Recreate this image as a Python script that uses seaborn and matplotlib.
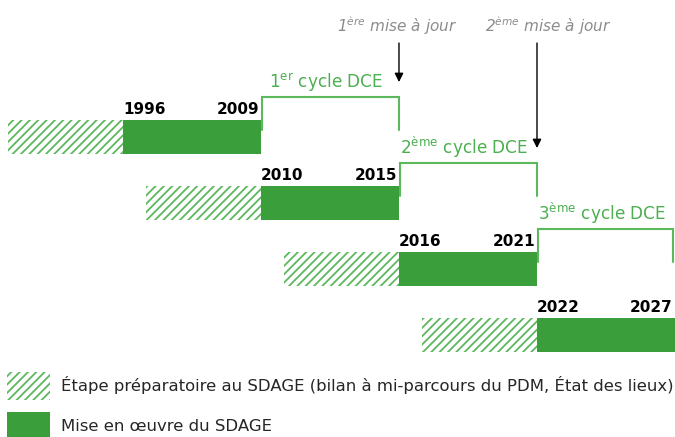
import matplotlib
matplotlib.use("Agg")
import matplotlib.pyplot as plt
from matplotlib.patches import Patch
import seaborn as sns

# SDAGE cycles (schematic: every implementation phase gets the same slot width)
start_years = [1996, 2010, 2016, 2022]
end_years = [2009, 2015, 2021, 2027]
cycle_names = ["1$^{\\mathregular{er}}$ cycle DCE",
               "2$^{\\mathregular{ème}}$ cycle DCE",
               "3$^{\\mathregular{ème}}$ cycle DCE"]
update_names = ["1$^{\\mathregular{ère}}$ mise à jour",
                "2$^{\\mathregular{ème}}$ mise à jour"]
legend_labels = ["Étape préparatoire au SDAGE (bilan à mi-parcours du PDM, État des lieux)",
                 "Mise en œuvre du SDAGE"]

sns.set_theme(style="white")
plt.rcParams["font.family"] = ["DejaVu Sans"]
plt.rcParams["hatch.linewidth"] = 1.3

solid = "#3a9f3a"
light = "#5cb85c"
txt_green = "#4caf50"
grey = "#8c8c8c"

prep_w = 0.833
bar_h = 0.515

fig = plt.figure(figsize=(6.75, 4.37), dpi=100)
ax = fig.add_axes([0, 0, 1, 1])
ax.set_xlim(-0.891, 4.0)
ax.set_ylim(4.545, -2.076)
ax.axis("off")

rows = list(range(len(start_years)))
# preparatory phase (hatched) then implementation (solid)
ax.barh(rows, [prep_w] * len(rows), left=[r - prep_w for r in rows], height=bar_h,
        color="white", edgecolor=light, hatch="////", linewidth=0)
ax.barh(rows, [1] * len(rows), left=rows, height=bar_h, color=solid, linewidth=0)

for r, (y0, y1) in enumerate(zip(start_years, end_years)):
    top = r - bar_h / 2
    ax.text(r + 0.0, top - 0.09, str(y0), fontsize=11, fontweight="bold",
            color="black", ha="left", va="baseline")
    ax.text(r + 0.985, top - 0.09, str(y1), fontsize=11, fontweight="bold",
            color="black", ha="right", va="baseline")

# cycle brackets
for k, name in enumerate(cycle_names):
    top = k - bar_h / 2
    y_hi = top - 0.348
    y_lo = top + 0.152
    xl = k + 1 + 0.005
    xr = min(k + 2, 3.985)
    ax.plot([xl, xl, xr, xr], [y_lo, y_hi, y_hi, y_lo], color=light, lw=1.5,
            solid_joinstyle="miter", clip_on=False)
    ax.text(k + 1.47, y_hi - 0.13, name, fontsize=12.2, color=txt_green,
            ha="center", va="baseline")

# "mise à jour" arrows
label_dx = [-0.01, 0.08]
for j, name in enumerate(update_names):
    x = j + 2
    tip = j - bar_h / 2 - 0.348 - 0.227
    ax.annotate("", xy=(x, tip), xytext=(x, -1.424),
                arrowprops=dict(arrowstyle="-|>", color="black", lw=1,
                                mutation_scale=13, shrinkA=0, shrinkB=0))
    ax.text(x + label_dx[j], -1.59, name, fontsize=11, color=grey, style="italic",
            ha="center", va="baseline")

handles = [Patch(facecolor="white", edgecolor=light, hatch="////", linewidth=0),
           Patch(facecolor=solid, edgecolor=solid, linewidth=0)]
fig.legend(handles, legend_labels, loc="upper left",
           bbox_to_anchor=(7 / 675, 1 - 372 / 437), bbox_transform=fig.transFigure,
           frameon=False, fontsize=11.85, handlelength=2.6, handleheight=2.2,
           handletextpad=0.7, labelspacing=0.75, borderpad=0, borderaxespad=0)

fig.savefig("out.png", dpi=100)
